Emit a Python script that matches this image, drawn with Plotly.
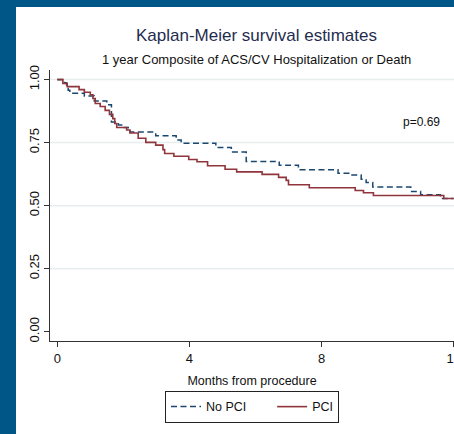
import plotly.graph_objects as go

# ---- data ----
months_nopci = [0, 0.22, 0.28, 0.33, 0.38, 0.82, 1.12, 1.50, 1.64, 1.85, 2.00, 2.15, 2.20,
                2.98, 3.60, 3.75, 4.80, 5.27, 5.72, 6.72, 7.30, 8.50, 8.85, 9.20, 9.35,
                9.55, 10.70, 11.00, 11.60, 12.0]
surv_nopci = [1.0, 0.987, 0.972, 0.958, 0.946, 0.935, 0.915, 0.900, 0.832, 0.820, 0.810,
              0.797, 0.792, 0.777, 0.760, 0.747, 0.731, 0.713, 0.675, 0.660, 0.642, 0.628,
              0.621, 0.605, 0.592, 0.574, 0.556, 0.543, 0.528, 0.528]

months_pci = [0, 0.17, 0.30, 0.66, 0.82, 1.00, 1.08, 1.15, 1.30, 1.45, 1.58, 1.68, 1.74,
              1.80, 2.10, 2.20, 2.45, 2.68, 2.98, 3.20, 3.25, 3.53, 3.98, 4.23, 4.55, 5.08,
              5.43, 6.20, 6.70, 6.93, 7.00, 7.63, 9.02, 9.27, 9.57, 11.70, 12.0]
surv_pci = [1.0, 0.985, 0.972, 0.960, 0.950, 0.940, 0.925, 0.905, 0.893, 0.878, 0.862,
            0.845, 0.826, 0.810, 0.800, 0.788, 0.767, 0.751, 0.740, 0.722, 0.707, 0.696,
            0.683, 0.674, 0.658, 0.644, 0.634, 0.624, 0.612, 0.600, 0.583, 0.571, 0.560,
            0.551, 0.540, 0.528, 0.528]

series_names = ["No PCI", "PCI"]
x_ticks = [0, 4, 8, 12]
x_tick_labels = ["0", "4", "8", "12"]
y_ticks = [0, 0.25, 0.5, 0.75, 1.0]
y_tick_labels = ["0.00", "0.25", "0.50", "0.75", "1.00"]
grid_y = [0.25, 0.5, 0.75, 1.0]
p_text = "p=0.69"
p_pos = (11.04, 0.83)

FONT = "Liberation Sans, Arial, sans-serif"
NAVY = "#1a476f"
MAROON = "#90353b"
BORDER = "#005687"
PAD = "\u00a0" * 6  # extra room after the first legend entry

fig = go.Figure()
fig.add_trace(go.Scatter(x=months_nopci, y=surv_nopci, name=series_names[0] + PAD, mode="lines",
                         line=dict(shape="hv", color=NAVY, width=1.5, dash="6px,3.5px")))
fig.add_trace(go.Scatter(x=months_pci, y=surv_pci, name=series_names[1], mode="lines",
                         line=dict(shape="hv", color=MAROON, width=1.6)))

# gridlines
for g in grid_y:
    fig.add_shape(type="line", xref="paper", x0=0, x1=1, yref="y", y0=g, y1=g,
                  line=dict(color="#e7eef0", width=1.5), layer="below")

# dark blue frame (left and top) of the slide
fig.add_shape(type="rect", xref="paper", yref="paper", x0=-0.2, x1=-0.08416, y0=-0.4, y1=1.3,
              fillcolor=BORDER, line=dict(width=0), layer="above")
fig.add_shape(type="rect", xref="paper", yref="paper", x0=-0.2, x1=1.1, y0=1.2325, y1=1.3,
              fillcolor=BORDER, line=dict(width=0), layer="above")

fig.add_annotation(text="Kaplan-Meier survival estimates", xref="paper", yref="paper",
                   x=0.51, y=1.129, xanchor="center", yanchor="middle", showarrow=False,
                   font=dict(family=FONT, size=17, color="#1f2d4f"))
fig.add_annotation(text="1 year Composite of ACS/CV Hospitalization or Death", xref="paper",
                   yref="paper", x=0.51, y=1.038, xanchor="center", yanchor="middle",
                   showarrow=False, font=dict(family=FONT, size=13, color="#111111"))
fig.add_annotation(text=p_text, x=p_pos[0], y=p_pos[1], xref="x", yref="y",
                   xanchor="center", yanchor="middle", showarrow=False,
                   font=dict(family=FONT, size=12, color="#111111"))

fig.update_layout(
    width=454, height=434,
    margin=dict(l=50, r=0, t=70, b=93),
    paper_bgcolor="white", plot_bgcolor="white",
    font=dict(family=FONT, color="#111111"),
    showlegend=True,
    legend=dict(orientation="h", x=0.50, xanchor="center", y=-0.1845, yanchor="top",
                bordercolor="#222222", borderwidth=1, bgcolor="white",
                font=dict(family=FONT, size=12.5, color="#111111"), itemwidth=30,
                traceorder="normal"),
    xaxis=dict(range=[-0.22, 12.01], tickvals=x_ticks, ticktext=x_tick_labels,
               ticks="outside", ticklen=5, tickcolor="#333333", showline=True,
               linecolor="#333333", linewidth=1, showgrid=False, zeroline=False,
               ticklabeloverflow="allow",
               tickfont=dict(family=FONT, size=13, color="#111111"), automargin=False,
               title=dict(text="Months from procedure", standoff=11,
                          font=dict(family=FONT, size=12.5, color="#111111"))),
    yaxis=dict(range=[-0.037, 1.038], tickvals=y_ticks, ticktext=y_tick_labels,
               tickangle=-90, ticks="outside", ticklen=5, tickcolor="#333333",
               showline=True, linecolor="#333333", linewidth=1, showgrid=False,
               zeroline=False, automargin=False,
               tickfont=dict(family=FONT, size=13, color="#111111")),
)

fig.write_html("out.html", config={"displayModeBar": False},
               post_script="document.body.style.margin='0px';")
